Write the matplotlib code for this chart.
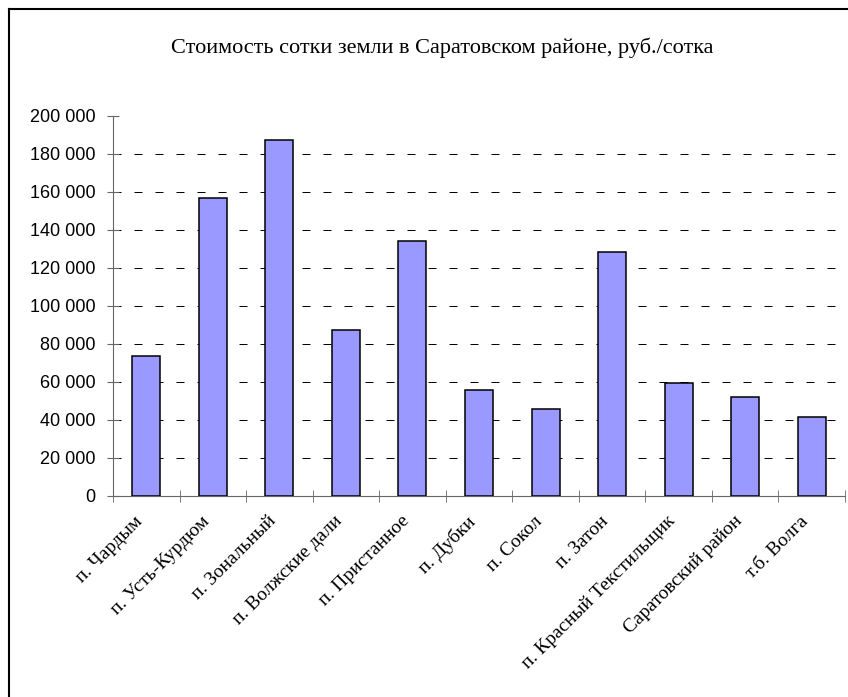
import matplotlib
matplotlib.use('Agg')
import matplotlib.pyplot as plt
import matplotlib.transforms as mtransforms
from matplotlib.ticker import FuncFormatter, MultipleLocator, FixedLocator
from matplotlib.lines import Line2D

places = ['п. Чардым', 'п. Усть-Курдюм', 'п. Зональный', 'п. Волжские дали',
          'п. Пристанное', 'п. Дубки', 'п. Сокол', 'п. Затон',
          'п. Красный Текстильщик', 'Саратовский район', 'т.б. Волга']
prices = [73500, 156600, 187300, 87600, 134200, 55900, 45700, 128400, 59500, 52200, 41800]

title = 'Стоимость сотки земли в Саратовском районе, руб./сотка'

fig = plt.figure(figsize=(8.48, 6.97), dpi=100)
ax = fig.add_axes([113 / 848, 1 - 496 / 697, (845 - 113) / 848, (496 - 116) / 697])

x = list(range(len(places)))
ax.bar(x, prices, width=0.42, color='#9999ff', edgecolor='black', linewidth=1.1, zorder=3)

ax.set_xlim(-0.5, len(places) - 0.5)
ax.set_ylim(0, 200000)
ax.yaxis.set_major_locator(MultipleLocator(20000))
ax.yaxis.set_major_formatter(FuncFormatter(lambda v, p: f'{int(v):,}'.replace(',', ' ')))
for v in range(20000, 200000, 20000):
    ax.axhline(v, color='black', lw=0.72, linestyle=(0, (8, 13)), zorder=1)

ax.set_xticks(x)
ax.set_xticklabels(places, rotation=45, ha='right', va='top', rotation_mode='anchor',
                   family='Liberation Serif', fontsize=14)
ax.tick_params(axis='x', which='major', length=0, pad=12)
shift = mtransforms.ScaledTranslation(-12 / 100, 0, fig.dpi_scale_trans)
for lbl in ax.get_xticklabels():
    lbl.set_transform(lbl.get_transform() + shift)
ax.xaxis.set_minor_locator(FixedLocator([i - 0.5 for i in range(len(places) + 1)]))
ax.tick_params(axis='x', which='minor', length=9, direction='inout', color='#666666')
ax.tick_params(axis='y', length=9, direction='inout', color='#666666', pad=8)
for lbl in ax.get_yticklabels():
    lbl.set_family('Liberation Sans')
    lbl.set_fontsize(13)

for s in ['top', 'right']:
    ax.spines[s].set_visible(False)
ax.spines['left'].set_color('#666666')
ax.spines['bottom'].set_color('#666666')

fig.text(442 / 848, 1 - 48 / 697, title, ha='center', va='center',
         family='Liberation Serif', fontsize=16)

# chart area frame
fig.add_artist(Line2D([9 / 848, 9 / 848], [0, 1 - 9 / 697], color='black', lw=1.5,
                      transform=fig.transFigure))
fig.add_artist(Line2D([9 / 848, 1], [1 - 9 / 697, 1 - 9 / 697], color='black', lw=1.5,
                      transform=fig.transFigure))

fig.savefig('out.png', dpi=100, facecolor='white')
